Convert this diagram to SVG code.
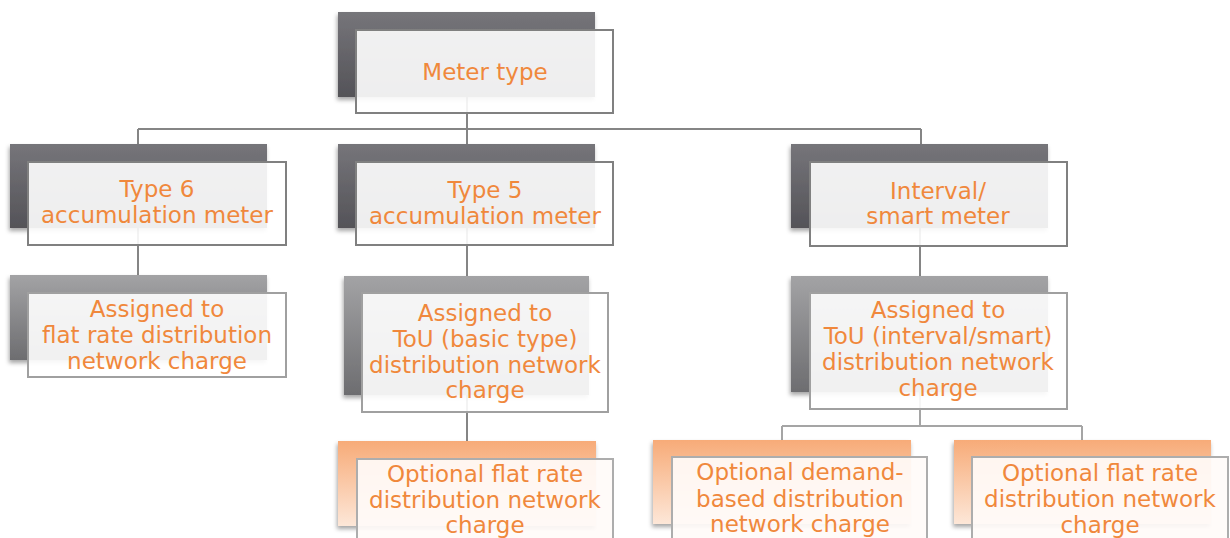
<svg xmlns="http://www.w3.org/2000/svg" width="1230" height="538" viewBox="0 0 1230 538">
<defs>
<linearGradient id="gDark" x1="0" y1="0" x2="0" y2="1"><stop offset="0" stop-color="#76757a"/><stop offset="1" stop-color="#545358"/></linearGradient>
<linearGradient id="gMid" x1="0" y1="0" x2="0" y2="1"><stop offset="0" stop-color="#a3a3a5"/><stop offset="1" stop-color="#6d6d70"/></linearGradient>
<linearGradient id="gOr" x1="0" y1="0" x2="0" y2="1"><stop offset="0" stop-color="#f7ab78"/><stop offset="1" stop-color="#fde7d8"/></linearGradient>
<filter id="sh" x="-10%" y="-10%" width="120%" height="130%"><feDropShadow dx="-1" dy="3" stdDeviation="2" flood-color="#000" flood-opacity="0.35"/></filter>
</defs>
<style>
.bd{fill:url(#gDark);filter:url(#sh)}
.bm{fill:url(#gMid);filter:url(#sh)}
.bo{fill:url(#gOr);filter:url(#sh)}
.f1{fill:#ffffff;fill-opacity:0.9;stroke:#808080;stroke-width:2}
.f2{fill:#ffffff;fill-opacity:0.9;stroke:#a0a0a0;stroke-width:2}
.f3{fill:#fffbf8;fill-opacity:0.92;stroke:#adadad;stroke-width:2}
.c{fill:none;stroke:#858585;stroke-width:2}
.c2{fill:none;stroke:#a5a5a5;stroke-width:2}
text{font-family:"DejaVu Sans",sans-serif;font-size:23px;fill:#f0883c;text-anchor:middle}
</style>
<rect width="1230" height="538" fill="#ffffff"/>
<g id="connectors">
<path class="c" d="M467 97V129M138 129H921M138 129V144M467 129V144M921 129V144"/>
<path class="c" d="M138 228V275M467 228V276M920 228V276"/>
<path class="c" d="M467 395V441"/>
<path class="c2" d="M920 392V426M782 426H1082M782 426V440M1082 426V440"/>
</g>
<g id="n-root">
<rect class="bd" x="338" y="12" width="257" height="85"/>
<rect class="f1" x="356" y="30" width="257" height="83"/>
<text x="485" y="80">Meter type</text>
</g>
<g id="n-type6">
<rect class="bd" x="10" y="144" width="257" height="84"/>
<rect class="f1" x="28" y="162" width="258" height="83"/>
<text x="157" y="197">Type 6</text>
<text x="157" y="223">accumulation meter</text>
</g>
<g id="n-type5">
<rect class="bd" x="338" y="144" width="257" height="84"/>
<rect class="f1" x="356" y="162" width="257" height="83"/>
<text x="485" y="198">Type 5</text>
<text x="485" y="224">accumulation meter</text>
</g>
<g id="n-interval">
<rect class="bd" x="791" y="144" width="257" height="84"/>
<rect class="f1" x="810" y="162" width="257" height="84"/>
<text x="938" y="199">Interval/</text>
<text x="938" y="224">smart meter</text>
</g>
<g id="n-flat6">
<rect class="bm" x="10" y="275" width="257" height="85"/>
<rect class="f2" x="28" y="293" width="258" height="84"/>
<text x="157" y="317">Assigned to</text>
<text x="157" y="343">flat rate distribution</text>
<text x="157" y="369">network charge</text>
</g>
<g id="n-tou5">
<rect class="bm" x="344" y="276" width="245" height="119"/>
<rect class="f2" x="362" y="293" width="246" height="119"/>
<text x="485" y="321">Assigned to</text>
<text x="485" y="347">ToU (basic type)</text>
<text x="485" y="373">distribution network</text>
<text x="485" y="398">charge</text>
</g>
<g id="n-touint">
<rect class="bm" x="791" y="276" width="257" height="116"/>
<rect class="f2" x="810" y="293" width="257" height="116"/>
<text x="938" y="318">Assigned to</text>
<text x="938" y="344">ToU (interval/smart)</text>
<text x="938" y="370">distribution network</text>
<text x="938" y="396">charge</text>
</g>
<g id="n-optflat5">
<rect class="bo" x="338" y="441" width="258" height="85"/>
<rect class="f3" x="357" y="459" width="256" height="90"/>
<text x="485" y="482">Optional flat rate</text>
<text x="485" y="508">distribution network</text>
<text x="485" y="533">charge</text>
</g>
<g id="n-optdemand">
<rect class="bo" x="653" y="440" width="258" height="84"/>
<rect class="f3" x="672" y="457" width="255" height="92"/>
<text x="800" y="480">Optional demand-</text>
<text x="800" y="507">based distribution</text>
<text x="800" y="532">network charge</text>
</g>
<g id="n-optflatint">
<rect class="bo" x="954" y="440" width="257" height="84"/>
<rect class="f3" x="972" y="457" width="256" height="92"/>
<text x="1100" y="481">Optional flat rate</text>
<text x="1100" y="507">distribution network</text>
<text x="1100" y="533">charge</text>
</g>
</svg>
